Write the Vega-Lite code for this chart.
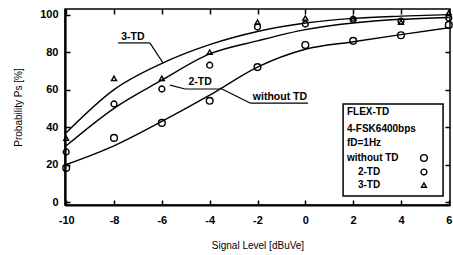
{
  "$schema": "https://vega.github.io/schema/vega-lite/v6.json",
  "width": 385,
  "height": 196,
  "autosize": {"type": "none"},
  "padding": {"left": 65, "top": 9, "right": 3, "bottom": 50},
  "background": "white",
  "config": {
    "view": {"stroke": "black", "strokeWidth": 1.5},
    "font": "Liberation Sans",
    "axis": {"grid": false, "domainColor": "black", "tickColor": "black", "labelColor": "black", "titleColor": "black"}
  },
  "datasets": {
    "pts": [
      {"x": -10, "y": 18.2, "series": "without TD"},
      {"x": -8, "y": 34.2, "series": "without TD"},
      {"x": -6, "y": 42.2, "series": "without TD"},
      {"x": -4, "y": 54, "series": "without TD"},
      {"x": -2, "y": 72, "series": "without TD"},
      {"x": 0, "y": 83.8, "series": "without TD"},
      {"x": 2, "y": 86, "series": "without TD"},
      {"x": 4, "y": 89, "series": "without TD"},
      {"x": 6, "y": 94.5, "series": "without TD"},
      {"x": -10, "y": 26.7, "series": "2-TD"},
      {"x": -8, "y": 52.3, "series": "2-TD"},
      {"x": -6, "y": 60.3, "series": "2-TD"},
      {"x": -4, "y": 73, "series": "2-TD"},
      {"x": -2, "y": 93.4, "series": "2-TD"},
      {"x": 0, "y": 95, "series": "2-TD"},
      {"x": 2, "y": 97.5, "series": "2-TD"},
      {"x": 4, "y": 96.5, "series": "2-TD"},
      {"x": 6, "y": 98.2, "series": "2-TD"},
      {"x": -10, "y": 34, "series": "3-TD"},
      {"x": -8, "y": 66, "series": "3-TD"},
      {"x": -6, "y": 66, "series": "3-TD"},
      {"x": -4, "y": 80, "series": "3-TD"},
      {"x": -2, "y": 96, "series": "3-TD"},
      {"x": 0, "y": 98.2, "series": "3-TD"},
      {"x": 2, "y": 98.2, "series": "3-TD"},
      {"x": 4, "y": 96, "series": "3-TD"},
      {"x": 6, "y": 101, "series": "3-TD"}
    ],
    "curves": [
      {"x": -10, "y": 20, "series": "without TD"},
      {"x": -8, "y": 30, "series": "without TD"},
      {"x": -6, "y": 43, "series": "without TD"},
      {"x": -4, "y": 57, "series": "without TD"},
      {"x": -2, "y": 72, "series": "without TD"},
      {"x": 0, "y": 81.5, "series": "without TD"},
      {"x": 2, "y": 85.5, "series": "without TD"},
      {"x": 4, "y": 89.3, "series": "without TD"},
      {"x": 6, "y": 93, "series": "without TD"},
      {"x": -10, "y": 30, "series": "2-TD"},
      {"x": -8, "y": 50, "series": "2-TD"},
      {"x": -6, "y": 65, "series": "2-TD"},
      {"x": -4, "y": 79, "series": "2-TD"},
      {"x": -2, "y": 86, "series": "2-TD"},
      {"x": 0, "y": 92, "series": "2-TD"},
      {"x": 2, "y": 95.5, "series": "2-TD"},
      {"x": 4, "y": 97.5, "series": "2-TD"},
      {"x": 6, "y": 98.5, "series": "2-TD"},
      {"x": -10, "y": 37, "series": "3-TD"},
      {"x": -8, "y": 60, "series": "3-TD"},
      {"x": -6, "y": 74, "series": "3-TD"},
      {"x": -4, "y": 84, "series": "3-TD"},
      {"x": -2, "y": 91, "series": "3-TD"},
      {"x": 0, "y": 95.5, "series": "3-TD"},
      {"x": 2, "y": 98, "series": "3-TD"},
      {"x": 4, "y": 99.2, "series": "3-TD"},
      {"x": 6, "y": 100, "series": "3-TD"}
    ],
    "labels": [
      {"x": -7.21, "y": 88, "text": "3-TD"},
      {"x": -4.4, "y": 64, "text": "2-TD"},
      {"x": -1.06, "y": 56, "text": "without TD"}
    ],
    "rules": [
      {"x": -7.83, "y": 84.9, "x2": -6.5, "y2": 84.9},
      {"x": -6.5, "y": 84.9, "x2": -5.95, "y2": 74.2},
      {"x": -5.03, "y": 60.3, "x2": -3.57, "y2": 60.3},
      {"x": -5.03, "y": 60.3, "x2": -5.66, "y2": 62.4},
      {"x": -2.31, "y": 52.8, "x2": 0.11, "y2": 52.8},
      {"x": -2.31, "y": 52.8, "x2": -3.57, "y2": 60.8}
    ],
    "box": [{"x": 1.58, "x2": 5.76, "y": 52.3, "y2": 3.2}],
    "legtext": [
      {"x": 1.74, "y": 48, "text": "FLEX-TD"},
      {"x": 1.74, "y": 39, "text": "4-FSK6400bps"},
      {"x": 1.74, "y": 31.5, "text": "fD=1Hz"},
      {"x": 1.74, "y": 23.5, "text": "without TD"},
      {"x": 2.2, "y": 16, "text": "2-TD"},
      {"x": 2.2, "y": 9, "text": "3-TD"}
    ],
    "legsym": [
      {"x": 4.96, "y": 23.5, "series": "without TD"},
      {"x": 4.96, "y": 16, "series": "2-TD"},
      {"x": 4.96, "y": 9, "series": "3-TD"}
    ]
  },
  "resolve": {"axis": {"x": "independent", "y": "independent"}},
  "layer": [
    {
      "data": {"name": "curves"},
      "mark": {"type": "line", "color": "black", "strokeWidth": 1.4, "interpolate": "monotone"},
      "encoding": {
        "x": {"field": "x", "type": "quantitative",
          "scale": {"domain": [-10.05, 6.05], "nice": false, "zero": false},
          "axis": {"values": [-10, -8, -6, -4, -2, 0, 2, 4, 6], "labelExpr": "'' + datum.value",
            "title": "Signal Level [dBuVe]", "titleFont": "Liberation Sans", "titleFontSize": 10, "titleFontWeight": "normal",
            "titlePadding": 15, "labelFontSize": 11, "labelFontWeight": "bold", "labelPadding": 14,
            "tickSize": -5, "tickWidth": 1.5, "domainWidth": 2.2}},
        "y": {"field": "y", "type": "quantitative",
          "scale": {"domain": [-1.6, 103], "nice": false, "zero": false},
          "axis": {"values": [0, 20, 40, 60, 80, 100], "title": "Probability Ps [%]",
            "titleFontSize": 10, "titleFontWeight": "normal", "titlePadding": 16,
            "labelFontSize": 11, "labelFontWeight": "bold", "labelPadding": 12,
            "tickSize": -5, "tickWidth": 1.5, "domainWidth": 2.2}},
        "detail": {"field": "series"}
      }
    },
    {
      "data": {"name": "pts"},
      "mark": {"type": "point", "filled": false, "color": "black", "strokeWidth": 1.4, "opacity": 1},
      "encoding": {
        "x": {"field": "x", "type": "quantitative",
          "axis": {"orient": "top", "values": [-10, -8, -6, -4, -2, 0, 2, 4, 6], "labels": false, "title": null, "tickSize": -5, "tickWidth": 1.5, "domain": false}},
        "y": {"field": "y", "type": "quantitative",
          "axis": {"orient": "right", "values": [0, 20, 40, 60, 80, 100], "labels": false, "title": null, "tickSize": -5, "tickWidth": 1.5, "domain": false}},
        "shape": {"field": "series", "type": "nominal", "legend": null,
          "scale": {"domain": ["without TD", "2-TD", "3-TD"], "range": ["circle", "circle", "triangle-up"]}},
        "size": {"field": "series", "type": "nominal", "legend": null,
          "scale": {"domain": ["without TD", "2-TD", "3-TD"], "range": [45, 24, 55]}}
      }
    },
    {
      "data": {"name": "rules"},
      "mark": {"type": "rule", "color": "black", "strokeWidth": 1.2},
      "encoding": {
        "x": {"field": "x", "type": "quantitative", "axis": null},
        "y": {"field": "y", "type": "quantitative", "axis": null},
        "x2": {"field": "x2"},
        "y2": {"field": "y2"}
      }
    },
    {
      "data": {"name": "labels"},
      "mark": {"type": "text", "fontSize": 10.5, "fontWeight": "bold", "color": "black", "baseline": "middle"},
      "encoding": {
        "x": {"field": "x", "type": "quantitative", "axis": null},
        "y": {"field": "y", "type": "quantitative", "axis": null},
        "text": {"field": "text"}
      }
    },
    {
      "data": {"name": "box"},
      "mark": {"type": "rect", "fill": "white", "stroke": "black", "strokeWidth": 1.5},
      "encoding": {
        "x": {"field": "x", "type": "quantitative", "axis": null},
        "x2": {"field": "x2"},
        "y": {"field": "y", "type": "quantitative", "axis": null},
        "y2": {"field": "y2"}
      }
    },
    {
      "data": {"name": "legtext"},
      "mark": {"type": "text", "fontSize": 10, "fontWeight": "bold", "color": "black", "align": "left", "baseline": "middle"},
      "encoding": {
        "x": {"field": "x", "type": "quantitative", "axis": null},
        "y": {"field": "y", "type": "quantitative", "axis": null},
        "text": {"field": "text"}
      }
    },
    {
      "data": {"name": "legsym"},
      "mark": {"type": "point", "filled": false, "color": "black", "strokeWidth": 1.4, "opacity": 1},
      "encoding": {
        "x": {"field": "x", "type": "quantitative", "axis": null},
        "y": {"field": "y", "type": "quantitative", "axis": null},
        "shape": {"field": "series", "type": "nominal", "legend": null},
        "size": {"field": "series", "type": "nominal", "legend": null}
      }
    }
  ]
}
